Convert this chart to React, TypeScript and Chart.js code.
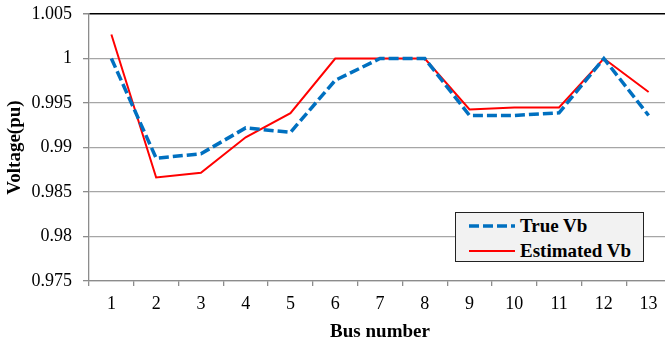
import React, { useEffect, useRef } from 'react';
import { Chart, registerables } from 'chart.js';

Chart.register(...registerables);

const busNumbers = ['1', '2', '3', '4', '5', '6', '7', '8', '9', '10', '11', '12', '13'];
const trueVb = [1.0, 0.9888, 0.9893, 0.9922, 0.9917, 0.99755, 1.0, 1.0, 0.9936, 0.9936, 0.9939, 1.0, 0.9936];
const estimatedVb = [1.0027, 0.98663, 0.98716, 0.99115, 0.99386, 1.0, 1.0, 1.0, 0.99427, 0.9945, 0.9945, 1.0, 0.99623];
const yTickValues = [0.975, 0.98, 0.985, 0.99, 0.995, 1, 1.005];

const seriesLabels = ['True Vb', 'Estimated Vb'];
const seriesColors = ['#0070c0', '#ff0000'];

const SERIF = "'Liberation Serif', 'Times New Roman', serif";

export default function App() {
  const canvasRef = useRef<HTMLCanvasElement | null>(null);

  useEffect(() => {
    if (!canvasRef.current) return;
    const chart = new Chart(canvasRef.current, {
      type: 'line',
      data: {
        labels: busNumbers,
        datasets: [
          {
            label: seriesLabels[0],
            data: trueVb,
            borderColor: seriesColors[0],
            borderWidth: 3.5,
            borderDash: [10, 4],
            pointRadius: 0,
            fill: false,
            tension: 0,
          },
          {
            label: seriesLabels[1],
            data: estimatedVb,
            borderColor: seriesColors[1],
            borderWidth: 2,
            pointRadius: 0,
            fill: false,
            tension: 0,
          },
        ],
      },
      options: {
        responsive: false,
        animation: false,
        layout: { padding: { top: 14, right: 0, left: 0, bottom: 0 } },
        plugins: {
          legend: { display: false },
          tooltip: { enabled: false },
        },
        scales: {
          x: {
            type: 'category',
            offset: true,
            grid: {
              offset: true,
              drawOnChartArea: false,
              tickLength: 5,
              color: '#8c8c8c',
              lineWidth: 1.3,
            },
            border: { color: '#8c8c8c', width: 1.3 },
            ticks: {
              font: { family: SERIF, size: 18 },
              color: '#000',
              padding: 7,
              maxRotation: 0,
              autoSkip: false,
            },
            title: {
              display: true,
              text: 'Bus number',
              color: '#000',
              font: { family: SERIF, size: 19, weight: 'bold' },
              padding: { top: 0, bottom: 2 },
            },
            afterFit: (s: any) => {
              s.height = 64;
              s.paddingLeft = 0;
              s.paddingRight = 0;
            },
          },
          y: {
            min: 0.975,
            max: 1.005,
            afterBuildTicks: (s: any) => {
              s.ticks = yTickValues.map((v) => ({ value: v }));
            },
            grid: {
              color: (ctx: any) => (ctx.tick && ctx.tick.value === 1.005 ? '#000' : '#a6a6a6'),
              lineWidth: (ctx: any) => (ctx.tick && ctx.tick.value === 1.005 ? 1.5 : 1.3),
              tickColor: '#8c8c8c',
              tickLength: 6,
            },
            border: { color: '#8c8c8c', width: 1.3 },
            ticks: {
              font: { family: SERIF, size: 18 },
              color: '#000',
              padding: 11,
              callback: (v: any) => String(v),
            },
            title: {
              display: true,
              text: 'Voltage(pu)',
              color: '#000',
              font: { family: SERIF, size: 19, weight: 'bold' },
              padding: { top: 4, bottom: 0 },
            },
            afterFit: (s: any) => {
              s.width = 89;
              s.paddingTop = 0;
              s.paddingBottom = 0;
            },
          },
        },
      },
    });
    return () => chart.destroy();
  }, []);

  const legendRows = [
    { label: seriesLabels[0], color: seriesColors[0], dash: '10 4', width: 3.5, center: 13 },
    { label: seriesLabels[1], color: seriesColors[1], dash: undefined, width: 2, center: 38 },
  ];

  return (
    <div
      style={{
        position: 'fixed',
        left: 0,
        top: 0,
        width: 665,
        height: 345,
        overflow: 'hidden',
        background: '#fff',
      }}
    >
      <canvas ref={canvasRef} width={671} height={345} style={{ width: 671, height: 345, display: 'block' }} />
      <div
        style={{
          position: 'absolute',
          left: 455,
          top: 212,
          width: 189,
          height: 50,
          boxSizing: 'border-box',
          background: '#f2f2f2',
          border: '1px solid #222',
          fontFamily: SERIF,
          fontWeight: 'bold',
          fontSize: 19,
          color: '#000',
        }}
      >
        {legendRows.map((r) => (
          <div
            key={r.label}
            style={{
              position: 'absolute',
              left: 0,
              top: r.center - 11,
              height: 22,
              lineHeight: '22px',
              whiteSpace: 'nowrap',
            }}
          >
            <svg width={46} height={22} style={{ position: 'absolute', left: 13, top: 0 }}>
              <line
                x1={0}
                y1={11}
                x2={46}
                y2={11}
                stroke={r.color}
                strokeWidth={r.width}
                strokeDasharray={r.dash}
              />
            </svg>
            <span style={{ position: 'absolute', left: 64, top: 0 }}>{r.label}</span>
          </div>
        ))}
      </div>
    </div>
  );
}
